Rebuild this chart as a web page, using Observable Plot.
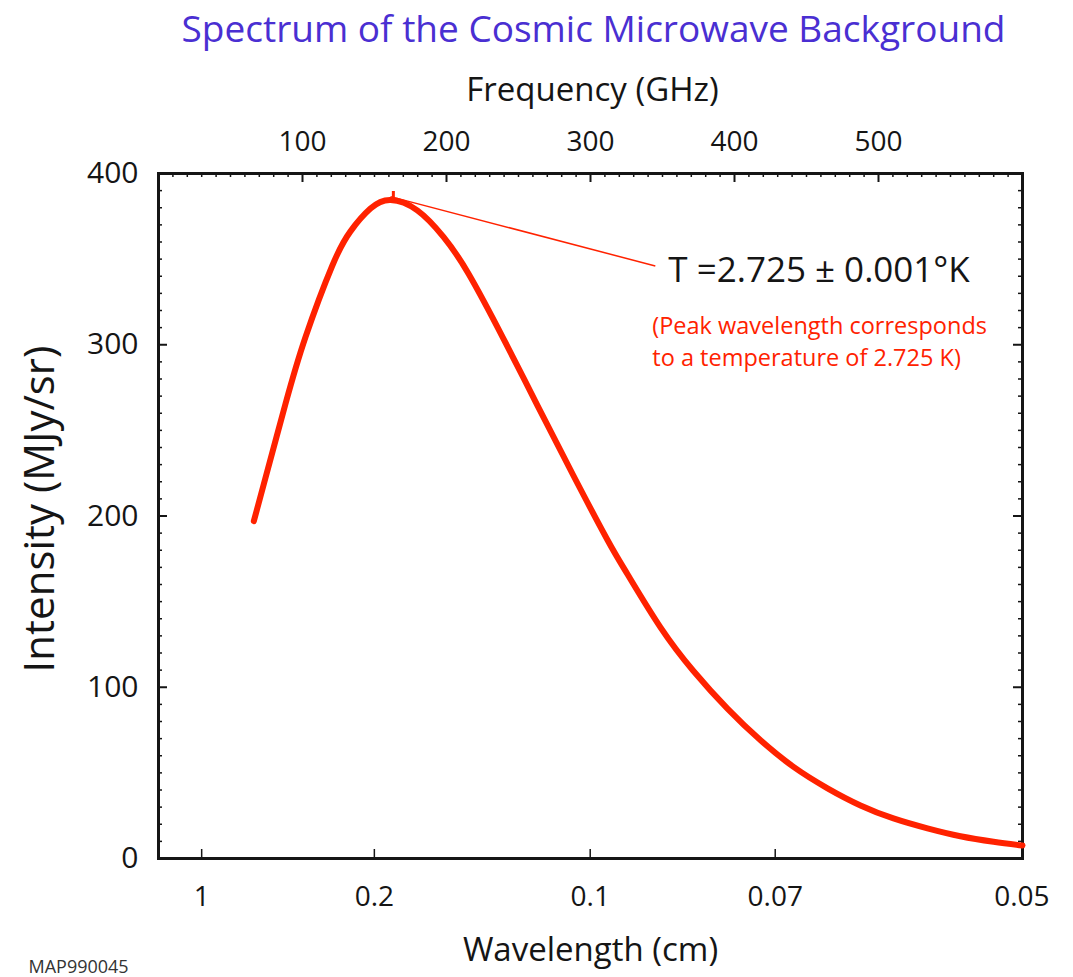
<!DOCTYPE html>
<html>
<head>
<meta charset="utf-8">
<script src="https://cdn.jsdelivr.net/npm/d3@7"></script>
<script src="https://cdn.jsdelivr.net/npm/@observablehq/plot@0.6"></script>
<style>
  html, body { margin: 0; padding: 0; background: #fff; }
  #chart svg { display: block; }
</style>
</head>
<body>
<div id="chart"></div>
<script>
// CMB blackbody spectrum, intensity vs. frequency
const frequencyGHz = [66.2, 73.1, 88.2, 102.1, 120.6, 133.3, 147.2, 161.1, 179.7, 197.9,
  215.3, 239.6, 263.2, 288.2, 311.8, 325.7, 348.6, 371.5, 395.1, 418.1,
  441.0, 464.6, 487.5, 510.4, 534.0, 556.9, 579.9, 600];
const intensityMJy = [197, 218.5, 265.5, 304.5, 346, 366.2, 379.5, 384.5, 378.5, 363,
  341.5, 303.5, 264.5, 223.5, 186, 166, 135, 109.5, 87.5, 69,
  53.5, 41, 31, 23.4, 17.6, 13, 9.8, 7.6];

// Axis ticks
const frequencyTicks = [100, 200, 300, 400, 500];
const wavelengthTicks = [1, 0.2, 0.1, 0.07, 0.05];
const wavelengthLabels = ["1", "0.2", "0.1", "0.07", "0.05"];
const intensityTicks = [0, 100, 200, 300, 400];

// Text
const title = "Spectrum of the Cosmic Microwave Background";
const topLabel = "Frequency (GHz)";
const bottomLabel = "Wavelength (cm)";
const yLabel = "Intensity (MJy/sr)";
const tempLabel = "T =2.725 \u00B1 0.001\u00B0K";
const tempNote = ["(Peak wavelength corresponds", "to a temperature of 2.725 K)"];
const imageId = "MAP990045";

// Layout
const W = 1073, H = 977;
const M = {top: 173, right: 51, bottom: 119, left: 158};
const innerW = W - M.left - M.right;
const innerH = H - M.top - M.bottom;
const C_CM_GHZ = 29.9792458; // speed of light in cm·GHz
const red = "#ff2200";
const ink = "#151515";
const font = "'Open Sans', 'Noto Sans', sans-serif";

const spectrum = frequencyGHz.map((f, i) => ({f, I: intensityMJy[i]}));
const peak = d3.greatest(spectrum, d => d.I);
const notePoint = {f: 345, I: 346};

const minorF = d3.range(10, 600, 10).filter(f => f % 100 !== 0);
const minorI = d3.range(10, 400, 10).filter(v => v % 100 !== 0);

const label = (text, opts) => Plot.text([text], {text: d => d, lineAnchor: "middle", textAnchor: "middle", fill: ink, ...opts});

const chart = Plot.plot({
  width: W,
  height: H,
  marginTop: M.top,
  marginRight: M.right,
  marginBottom: M.bottom,
  marginLeft: M.left,
  x: {type: "linear", domain: [0, 600], axis: null},
  y: {type: "linear", domain: [0, 400], axis: null},
  style: {fontFamily: font, background: "#fff", color: ink, overflow: "visible"},
  marks: [
    // inward ticks: top (frequency), left/right (intensity), bottom (wavelength)
    Plot.tickX(minorF, {x: d => d, insetBottom: innerH - 4, stroke: ink, strokeWidth: 1.5}),
    Plot.tickX(frequencyTicks, {x: d => d, insetBottom: innerH - 9, stroke: ink, strokeWidth: 2}),
    Plot.tickY(minorI, {y: d => d, insetRight: innerW - 4, stroke: ink, strokeWidth: 1.5}),
    Plot.tickY(intensityTicks, {y: d => d, insetRight: innerW - 9, stroke: ink, strokeWidth: 2}),
    Plot.tickY(minorI, {y: d => d, insetLeft: innerW - 4, stroke: ink, strokeWidth: 1.5}),
    Plot.tickY(intensityTicks, {y: d => d, insetLeft: innerW - 9, stroke: ink, strokeWidth: 2}),
    Plot.tickX(wavelengthTicks, {x: l => C_CM_GHZ / l, insetTop: innerH - 9, stroke: ink, strokeWidth: 1.5}),
    Plot.frame({stroke: ink, strokeWidth: 3}),

    // spectrum curve
    Plot.line(spectrum, {x: "f", y: "I", stroke: red, strokeWidth: 6, curve: "natural"}),

    // peak marker and callout
    Plot.link([peak], {x1: "f", y1: d => d.I + 2, x2: () => notePoint.f, y2: () => notePoint.I,
      stroke: red, strokeWidth: 1.5}),
    Plot.ruleX([peak], {x: d => d.f + 2, y1: d => d.I - 1, y2: d => d.I + 5, stroke: red, strokeWidth: 3}),
    Plot.text([tempLabel], {x: () => notePoint.f, y: () => notePoint.I, text: d => d,
      textAnchor: "start", lineAnchor: "middle", dx: 13, dy: 5, fontSize: 35, fill: ink}),
    Plot.text([tempNote[0]], {x: () => notePoint.f, y: () => notePoint.I, text: d => d,
      textAnchor: "start", lineAnchor: "middle", dx: -3, dy: 60, fontSize: 23.5, fill: red}),
    Plot.text([tempNote[1]], {x: () => notePoint.f, y: () => notePoint.I, text: d => d,
      textAnchor: "start", lineAnchor: "middle", dx: -3, dy: 92, fontSize: 23.5, fill: red}),

    // tick labels
    Plot.text(frequencyTicks, {x: d => d, frameAnchor: "top", lineAnchor: "middle", dy: -31,
      text: d => String(d), fontSize: 28, fill: ink}),
    Plot.text(intensityTicks, {y: d => d, frameAnchor: "left", textAnchor: "end", lineAnchor: "middle",
      dx: -20, text: d => String(d), fontSize: 30, fill: ink}),
    Plot.text(wavelengthTicks, {x: l => C_CM_GHZ / l, frameAnchor: "bottom", lineAnchor: "middle", dy: 39,
      text: (d, i) => wavelengthLabels[i], fontSize: 28, fill: ink}),

    // titles
    label(title, {frameAnchor: "top", dx: 3, dy: -143, fontSize: 37, fill: "#4a2fd2"}),
    label(topLabel, {frameAnchor: "top", dx: 2, dy: -83, fontSize: 33}),
    label(bottomLabel, {frameAnchor: "bottom", dy: 92, fontSize: 33}),
    label(yLabel, {frameAnchor: "left", dx: -118, dy: -7, rotate: -90, fontSize: 42}),
    label(imageId, {frameAnchor: "bottom-left", textAnchor: "start", dx: -130, dy: 109,
      fontSize: 18, fill: "#333"})
  ]
});

document.getElementById("chart").appendChild(chart);
</script>
</body>
</html>
